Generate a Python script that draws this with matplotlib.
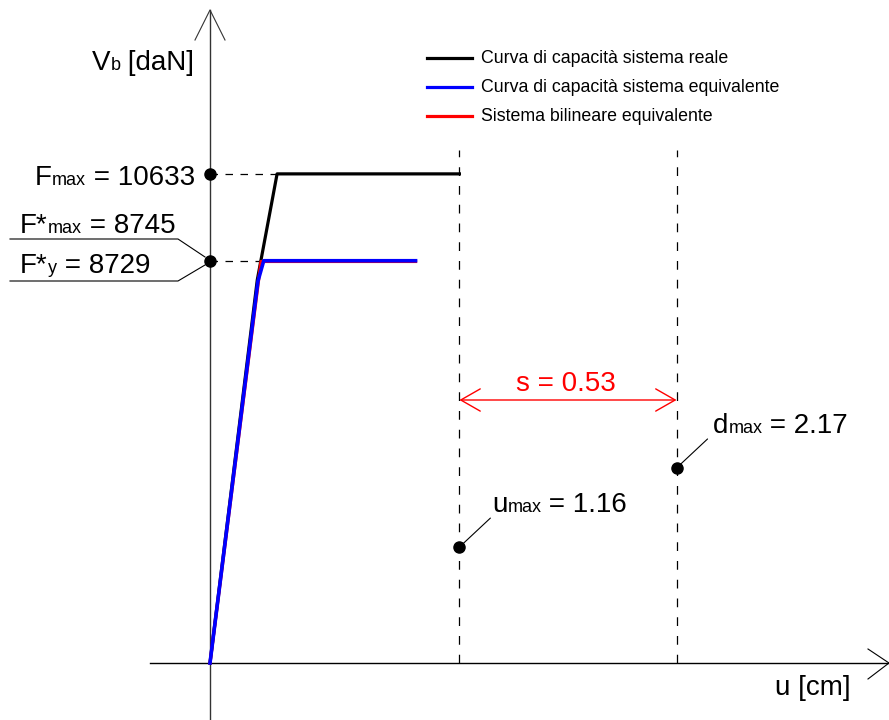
import matplotlib
matplotlib.use('Agg')
import matplotlib.pyplot as plt
import matplotlib.transforms as mtransforms
from matplotlib.lines import Line2D

plt.rcParams['font.family'] = ['Liberation Sans', 'DejaVu Sans']

# curva di capacità del sistema reale
u_reale = [0, 0.220, 0.290, 0.312, 1.16]
F_reale = [0, 8330, 10080, 10633, 10633]
# curva di capacità del sistema equivalente
u_equiv = [0, 0.223, 0.250, 0.956]
F_equiv = [0, 8300, 8745, 8745]
# sistema bilineare equivalente
u_bil = [0, 0.237, 0.956]
F_bil = [0, 8729, 8729]

Fmax = 10633
Fstar_max = 8745
Fstar_y = 8729
u_max = 1.16
d_max = 2.17
s_val = 0.53

legend_labels = ['Curva di capacità sistema reale',
                 'Curva di capacità sistema equivalente',
                 'Sistema bilineare equivalente']
legend_colors = ['black', 'blue', 'red']

W, H = 889, 720
X0, Y0 = 210, 663          # origine in pixel
SX, SY = 215.0, 0.046      # pixel per cm, pixel per daN

fig = plt.figure(figsize=(W / 100, H / 100), dpi=100)
ax = fig.add_axes([0, 0, 1, 1])
ax.set_xlim(-X0 / SX, (W - X0) / SX)
ax.set_ylim(-(H - Y0) / SY, Y0 / SY)
ax.axis('off')

# coordinate in pixel con origine in alto a sinistra
pix = mtransforms.Affine2D().scale(1, -1).translate(0, H)
renderer = fig.canvas.get_renderer()


def px_line(xs, ys, **kw):
    fig.add_artist(Line2D(xs, ys, transform=pix, **kw))


def label(x, y, parts, color='black', ha='left'):
    # parts: (testo, dimensione)
    widths = []
    for txt, size in parts:
        t = fig.text(0, 0, txt, fontsize=size)
        widths.append(t.get_window_extent(renderer).width)
        t.remove()
    total = sum(widths)
    if ha == 'right':
        x -= total
    elif ha == 'center':
        x -= total / 2
    for (txt, size), w in zip(parts, widths):
        fig.text(x, y, txt, fontsize=size, color=color, va='baseline',
                 ha='left', transform=pix)
        x += w


# assi
ax.plot([0, 0], [-(H - Y0) / SY, (Y0 - 10) / SY], color='#333333', lw=1, zorder=1)
px_line([195, 210, 225], [40, 10, 40], color='#333333', lw=0.8)
ax.plot([(150 - X0) / SX, (W - X0) / SX], [0, 0], color='black', lw=1, zorder=1)
px_line([868, 889, 868], [649, 663, 679], color='black', lw=0.8)

# curve
ax.plot(u_reale, F_reale, color='black', lw=2.3, zorder=3)
ax.plot(u_bil, F_bil, color='red', lw=2.3, zorder=4)
ax.plot(u_equiv, F_equiv, color='blue', lw=2.6, zorder=5)

# linee di richiamo tratteggiate
ax.plot([0, u_reale[3]], [Fmax, Fmax], color='black', lw=0.9, dashes=(6, 6), zorder=2)
ax.plot([0, u_equiv[2]], [Fstar_y, Fstar_y], color='black', lw=0.9, dashes=(6, 6), zorder=2)
top = (Y0 - 150) / SY
ax.plot([u_max, u_max], [0, top], color='black', lw=0.9, dashes=(7, 8), zorder=2)
ax.plot([d_max, d_max], [0, top], color='black', lw=0.9, dashes=(7, 8), zorder=2)

# punti
ax.plot([0, 0], [Fmax, Fstar_y], 'o', color='black', ms=8, zorder=6)
F_umax, F_dmax = 2520, 4240
ax.plot([u_max, d_max], [F_umax, F_dmax], 'o', color='black', ms=8, zorder=6)
for uu, FF in [(u_max, F_umax), (d_max, F_dmax)]:
    ax.annotate('', xy=(uu, FF), xytext=(31, 29), textcoords='offset pixels',
                arrowprops=dict(arrowstyle='-', lw=0.8, color='black',
                                shrinkA=0, shrinkB=0))

# quota s
y_s = (Y0 - 400) / SY
ax.annotate('', xy=(u_max, y_s), xytext=(d_max, y_s),
            arrowprops=dict(arrowstyle='<->,head_length=1.4,head_width=0.8',
                            mutation_scale=10, color='red', lw=1,
                            shrinkA=0, shrinkB=0))
label(566, 391, [('s = %.2f' % s_val, 20)], color='red', ha='center')

# etichette
label(195, 185, [('F', 20), ('max', 13), (' = %d' % Fmax, 20)], ha='right')
label(20, 233, [('F*', 20), ('max', 13), (' = %d' % Fstar_max, 20)])
label(20, 273, [('F*', 20), ('y', 13), (' = %d' % Fstar_y, 20)])
px_line([10, 178, 205], [239, 239, 257], color='black', lw=0.8)
px_line([10, 178, 205], [281, 281, 265], color='black', lw=0.8)

label(492, 512, [('u', 20), ('max', 13), (' = %.2f' % u_max, 20)])
label(713, 433, [('d', 20), ('max', 13), (' = %.2f' % d_max, 20)])

label(92, 70, [('V', 20), ('b', 13), (' [daN]', 20)])
label(775, 695, [('u [cm]', 20)])

# legenda
for i, (lab, col) in enumerate(zip(legend_labels, legend_colors)):
    yl = 58 + 29 * i
    px_line([427, 472], [yl, yl], color=col, lw=2.3)
    label(481, yl + 5, [(lab, 12.8)])

fig.savefig('out.png', dpi=100)
